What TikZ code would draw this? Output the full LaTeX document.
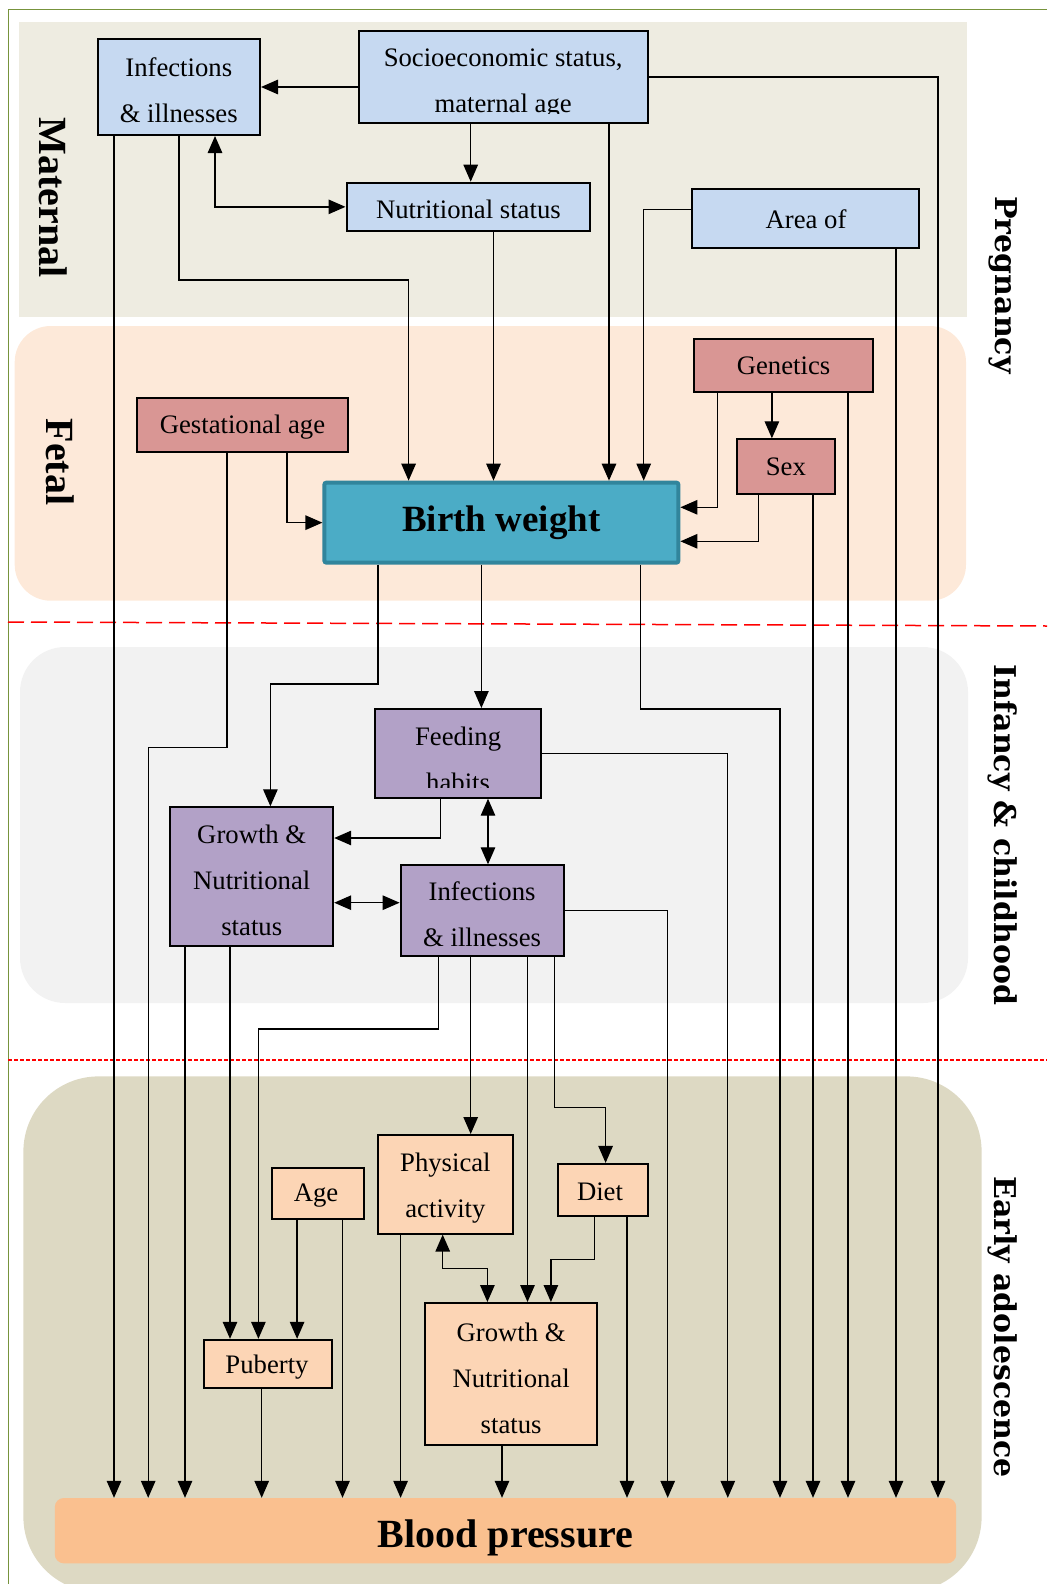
\documentclass[tikz,border=0pt]{standalone}
\usepackage{fontspec}
\setmainfont{Liberation Serif}
\newfontfamily\rlabfont{DejaVu Serif}
\usetikzlibrary{arrows.meta,calc}
\definecolor{matbg}{HTML}{EEECE1}
\definecolor{fetbg}{HTML}{FDE9D9}
\definecolor{infbg}{HTML}{F2F2F2}
\definecolor{adobg}{HTML}{DDD9C3}
\definecolor{cmat}{HTML}{C6D9F1}
\definecolor{cfet}{HTML}{D99694}
\definecolor{cbw}{HTML}{4BACC6}
\definecolor{cbwb}{HTML}{31859C}
\definecolor{cinf}{HTML}{B2A1C7}
\definecolor{cado}{HTML}{FCD5B5}
\definecolor{cbp}{HTML}{FAC08F}
\definecolor{grn}{HTML}{77933C}
\begin{document}
\begin{tikzpicture}[x=1pt,y=-1pt,
  box/.style={draw=black, line width=2pt, inner sep=0pt, align=center,
    font={\fontsize{26.7pt}{46pt}\selectfont}},
  txt/.style={inner sep=0pt, align=center, font={\fontsize{26.7pt}{46pt}\selectfont}},
  arr/.style={line width=1.3pt, -{Triangle[length=17pt,width=14.5pt]}},
  arrb/.style={line width=1.3pt, {Triangle[length=17pt,width=14.5pt]}-{Triangle[length=17pt,width=14.5pt]}},
  lab/.style={inner sep=0pt, rotate=-90, font={\fontsize{40pt}{40pt}\selectfont\bfseries}},
  rlab/.style={inner sep=0pt, rotate=-90, font={\rlabfont\fontsize{30pt}{30pt}\selectfont\bfseries}}
]
\useasboundingbox (0,0) rectangle (1047,1584);
\clip (0,0) rectangle (1047,1584);

% backgrounds
\fill[matbg] (19,22) rectangle (967,317);
\fill[fetbg, rounded corners=36pt] (14.7,326) rectangle (966,600.7);
\fill[infbg, rounded corners=45pt] (20,647) rectangle (968,1003);
\fill[adobg, rounded corners=75pt] (23.4,1076.4) rectangle (981.6,1592);

% frame and separators
\draw[grn, line width=1.5pt] (8.3,1584) -- (8.3,9.7) -- (1047,9.7);
\draw[red, line width=1.5pt, dash pattern=on 16pt off 7pt] (8,622) -- (1047,626);
\draw[red, line width=1.3pt, dash pattern=on 4pt off 2pt] (8,1060) -- (1047,1060);

% stage labels
\node[lab] (lmat) at (53.3,197.5) {Maternal};
\node[lab] (lfet) at (60,462) {Fetal};
\node[rlab] (lpre) at (1003,285) {Pregnancy};
\node[rlab] (linf) at (1003,835) {Infancy \& childhood};
\node[rlab] (lado) at (1003,1327) {Early adolescence};

% maternal boxes
\node[box, fill=cmat, minimum width=162.5pt, minimum height=96pt] (inf1) at (178.75,87) {};
\node[txt] (inf1t) at (178.75,90) {Infections\\\& illnesses};
\node[box, fill=cmat, minimum width=289pt, minimum height=92.6pt] (soc) at (503.15,77) {};
\begin{scope}
  \clip (358,30) rectangle (648,113.5);
  \node[txt] (soct) at (503.15,84) {Socioeconomic status,\\maternal age};
\end{scope}
\node[box, fill=cmat, minimum width=243.8pt, minimum height=48.3pt] (nut) at (468.4,206.85) {};
\node[txt] (nutt) at (468.4,209) {Nutritional status};
\node[box, fill=cmat, minimum width=226.4pt, minimum height=59pt] (area) at (805.6,218.8) {};
\node[txt] (areat) at (806,219) {Area of};

% fetal boxes
\node[box, fill=cfet, minimum width=178.3pt, minimum height=53.3pt] (gen) at (783.55,365.35) {Genetics};
\node[box, fill=cfet, minimum width=211pt, minimum height=54pt] (gest) at (242.5,425) {};
\node[txt] (gestt) at (242.5,427) {Gestational age};
\node[box, fill=cfet, minimum width=97.7pt, minimum height=54.7pt] (sex) at (785.85,466.65) {Sex};
\node[draw=cbwb, line width=4pt, fill=cbw, rounded corners=2pt, inner sep=0pt,
  minimum width=354pt, minimum height=80pt,
  font={\fontsize{37pt}{40pt}\selectfont\bfseries}] (bw) at (501.4,522.65) {Birth weight};

% infancy boxes
\node[box, fill=cinf, minimum width=165.6pt, minimum height=88.7pt] (feed) at (458.1,753.35) {};
\begin{scope}
  \clip (376,710) rectangle (540,787);
  \node[txt] (feedt) at (458.1,759) {Feeding\\habits};
\end{scope}
\node[box, fill=cinf, minimum width=162.9pt, minimum height=139pt] (gro1) at (251.75,876.8) {};
\node[txt] (gro1t) at (251.75,880) {Growth \&\\Nutritional\\status};
\node[box, fill=cinf, minimum width=163pt, minimum height=90.4pt] (inf2) at (482.1,910.5) {};
\node[txt] (inf2t) at (482.1,914) {Infections\\\& illnesses};

% adolescence boxes
\node[box, fill=cado, minimum width=134.8pt, minimum height=98.6pt] (phys) at (445.4,1184.3) {};
\node[txt] (physt) at (445.4,1188) {Physical\\activity};
\node[box, fill=cado, minimum width=92.2pt, minimum height=51.7pt] (age) at (317.9,1193.55) {};
\node[txt] (aget) at (316,1196) {Age};
\node[box, fill=cado, minimum width=90.2pt, minimum height=52.1pt] (diet) at (603.3,1189.95) {};
\node[txt] (dietet) at (600,1192) {Diet};
\node[box, fill=cado, minimum width=127.6pt, minimum height=48.2pt] (pub) at (268.1,1363.9) {};
\node[txt] (pubt) at (267,1367) {Puberty};
\node[box, fill=cado, minimum width=171.7pt, minimum height=142.3pt] (gro2) at (511.15,1374.15) {};
\node[txt] (gro2t) at (511.15,1378) {Growth \&\\Nutritional\\status};
\node[fill=cbp, rounded corners=9pt, inner sep=0pt, minimum width=901.4pt, minimum height=65.3pt] (bp) at (505.5,1530.65) {};
\node[inner sep=0pt, font={\fontsize{40pt}{40pt}\selectfont\bfseries}] (bpt) at (505.5,1537.6) {Blood pressure};

% maternal connectors
\draw[arr] (soc.west |- inf1.east) -- (inf1.east);
\coordinate (c1) at (938,77);
\draw[arr] (soc.east |- c1) -- (c1) -- (c1 |- bp.north);
\coordinate (c2) at (470.7,0);
\draw[arr] (soc.south -| c2) -- (nut.north -| c2);
\coordinate (c3) at (609,0);
\draw[arr] (soc.south -| c3) -- (bw.north -| c3);
\coordinate (c4) at (215,0);
\draw[arrb] (inf1.south -| c4) |- (nut.west);
\coordinate (c5) at (114,0);
\draw[arr] (inf1.south -| c5) -- (bp.north -| c5);
\coordinate (c6) at (179,280);
\coordinate (c7) at (408.6,280);
\draw[arr] (inf1.south -| c6) -- (c6) -- (c7) -- (c7 |- bw.north);
\coordinate (c8) at (493.5,0);
\draw[arr] (nut.south -| c8) -- (bw.north -| c8);
\coordinate (c9) at (643.7,209.7);
\draw[arr] (area.west |- c9) -- (c9) -- (c9 |- bw.north);
\coordinate (c10) at (896,0);
\draw[arr] (area.south -| c10) -- (bp.north -| c10);

% fetal connectors
\coordinate (f1) at (227,747.3);
\coordinate (f2) at (148.2,747.3);
\draw[arr] (gest.south -| f1) -- (f1) -- (f2) -- (f2 |- bp.north);
\coordinate (f3) at (287,0);
\draw[arr] (gest.south -| f3) |- (bw.west);
\coordinate (f4) at (717.8,507.3);
\draw[arr] (gen.south -| f4) -- (f4) -- (f4 -| bw.east);
\coordinate (f5) at (771.9,0);
\draw[arr] (gen.south -| f5) -- (sex.north -| f5);
\coordinate (f6) at (848,0);
\draw[arr] (gen.south -| f6) -- (bp.north -| f6);
\coordinate (f7) at (758.6,541.3);
\draw[arr] (sex.south -| f7) -- (f7) -- (f7 -| bw.east);
\coordinate (f8) at (813,0);
\draw[arr] (sex.south -| f8) -- (bp.north -| f8);
\coordinate (f9) at (378,684);
\coordinate (f10) at (270.4,684);
\draw[arr] (bw.south -| f9) -- (f9) -- (f10) -- (f10 |- gro1.north);
\coordinate (f11) at (481.4,0);
\draw[arr] (bw.south -| f11) -- (feed.north -| f11);
\coordinate (f12) at (640.4,709);
\coordinate (f13) at (780,709);
\draw[arr] (bw.south -| f12) -- (f12) -- (f13) -- (f13 |- bp.north);

% infancy connectors
\coordinate (i1) at (727.8,753.3);
\draw[arr] (feed.east |- i1) -- (i1) -- (i1 |- bp.north);
\coordinate (i2) at (440.7,838);
\draw[arr] (feed.south -| i2) -- (i2) -- (i2 -| gro1.east);
\coordinate (i3) at (488,0);
\draw[arrb] (feed.south -| i3) -- (inf2.north -| i3);
\coordinate (i4) at (0,902.7);
\draw[arrb] (gro1.east |- i4) -- (inf2.west |- i4);
\coordinate (i5) at (667.7,910.7);
\draw[arr] (inf2.east |- i5) -- (i5) -- (i5 |- bp.north);
\coordinate (i6) at (185,0);
\draw[arr] (gro1.south -| i6) -- (bp.north -| i6);
\coordinate (i7) at (230,0);
\draw[arr] (gro1.south -| i7) -- (pub.north -| i7);
\coordinate (i8) at (438.7,1029);
\coordinate (i9) at (258.4,1029);
\draw[arr] (inf2.south -| i8) -- (i8) -- (i9) -- (i9 |- pub.north);
\coordinate (i10) at (470.7,0);
\draw[arr] (inf2.south -| i10) -- (phys.north -| i10);
\coordinate (i11) at (527.5,0);
\draw[arr] (inf2.south -| i11) -- (gro2.north -| i11);
\coordinate (i12) at (554.2,1107.7);
\coordinate (i13) at (605.6,1107.7);
\draw[arr] (inf2.south -| i12) -- (i12) -- (i13) -- (i13 |- diet.north);

% adolescence connectors
\coordinate (a1) at (400.6,0);
\draw[arr] (phys.south -| a1) -- (bp.north -| a1);
\coordinate (a2) at (442.7,1268.3);
\coordinate (a3) at (487.4,1268.3);
\draw[arrb] (phys.south -| a2) -- (a2) -- (a3) -- (a3 |- gro2.north);
\coordinate (a4) at (594.3,1259.3);
\coordinate (a5) at (550.9,1259.3);
\draw[arr] (diet.south -| a4) -- (a4) -- (a5) -- (a5 |- gro2.north);
\coordinate (a6) at (627,0);
\draw[arr] (diet.south -| a6) -- (bp.north -| a6);
\coordinate (a7) at (297.1,0);
\draw[arr] (age.south -| a7) -- (pub.north -| a7);
\coordinate (a8) at (342.5,0);
\draw[arr] (age.south -| a8) -- (bp.north -| a8);
\coordinate (a9) at (261.7,0);
\draw[arr] (pub.south -| a9) -- (bp.north -| a9);
\coordinate (a10) at (502,0);
\draw[arr] (gro2.south -| a10) -- (bp.north -| a10);
\end{tikzpicture}
\end{document}
